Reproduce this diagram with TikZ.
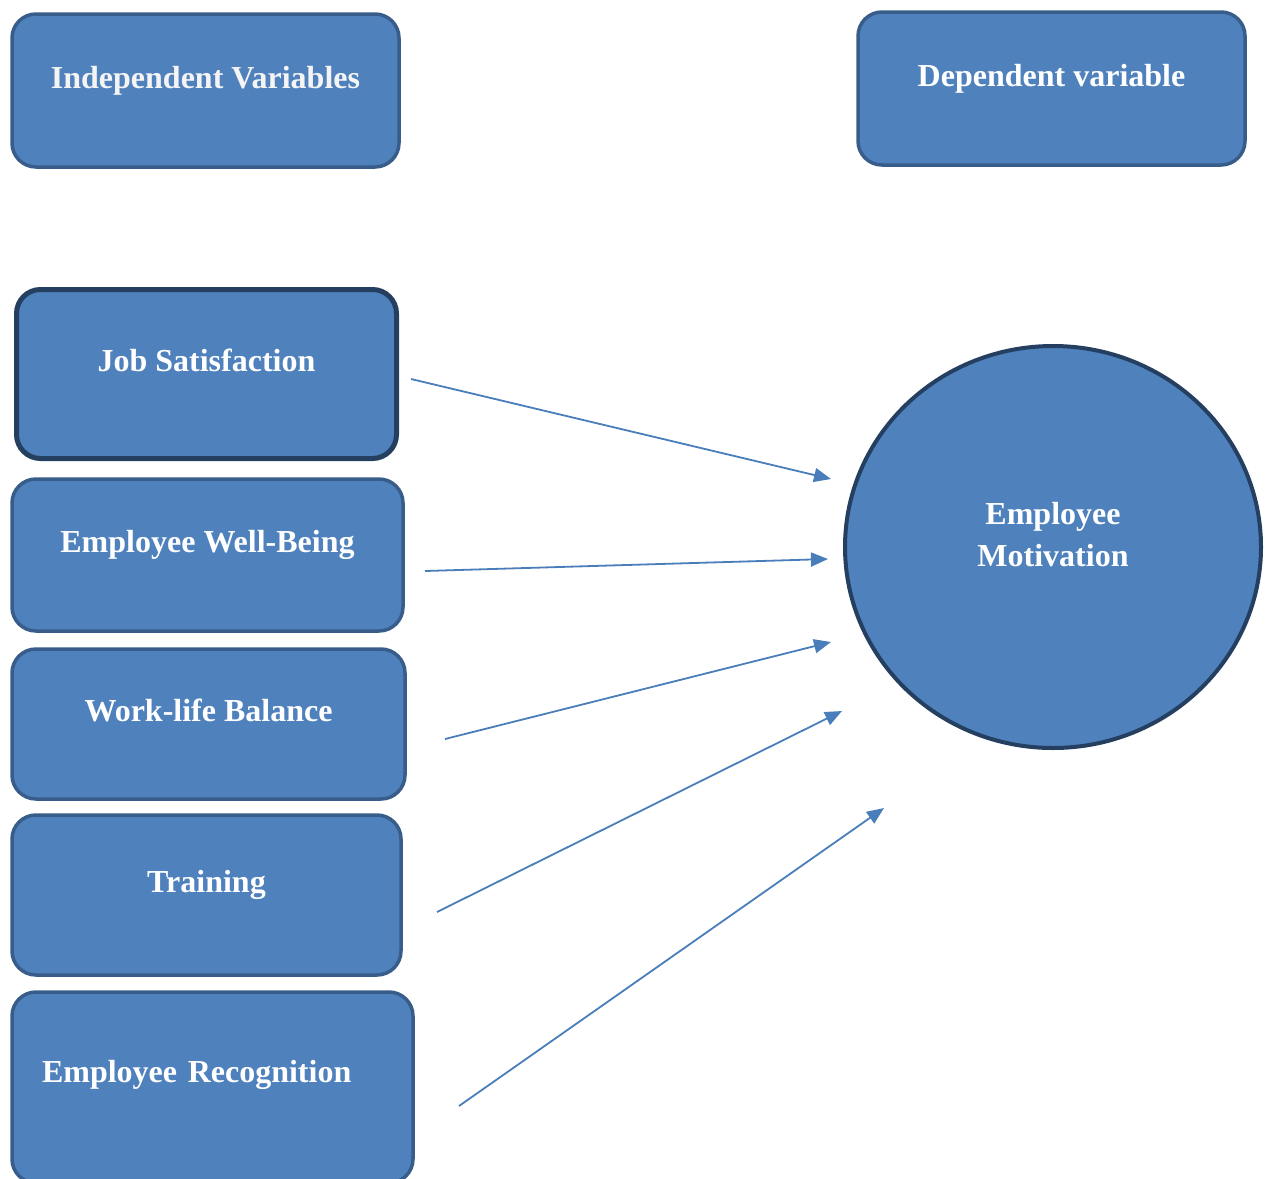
\documentclass[tikz,border=0pt]{standalone}
\usepackage{fontspec}
\setmainfont{Liberation Serif}
\usetikzlibrary{arrows.meta,shapes.geometric}
\definecolor{boxfill}{HTML}{4F81BD}
\definecolor{boxline}{HTML}{385D8A}
\definecolor{deepline}{HTML}{243F60}
\definecolor{link}{HTML}{4A7EBB}
\definecolor{paper}{HTML}{F4F4F4}

\begin{document}
\begin{tikzpicture}[x=1pt,y=-1pt,
 v/.style={draw=boxline,fill=boxfill,line width=3.5pt,rounded corners=24pt,inner sep=0pt,align=center,text=white,font=\bfseries\fontsize{32}{42}\selectfont},
 m/.style={ellipse,draw=deepline,fill=boxfill,line width=4pt,inner sep=0pt,minimum width=416pt,minimum height=402pt,align=center,text=white,font=\bfseries\fontsize{32}{42}\selectfont},
 a/.style={-{Triangle[length=17pt,width=14pt]},draw=link,line width=1.8pt}
]
\useasboundingbox (0,0) rectangle (1265,1178);
% headings
\node[v,text=paper,minimum width=387pt,text height=74pt,text depth=79pt] (iv) at (205.5,90.5) {Independent Variables};
\node[v,minimum width=387pt,text height=74pt,text depth=79pt] (dv) at (1051.5,88.5) {Dependent variable};
% the five factors
\node[v,draw=deepline,line width=5pt,minimum width=380pt,text height=81.5pt,text depth=87.5pt] (js) at (206.5,374) {Job Satisfaction};
\node[v,minimum width=391pt,text height=73pt,text depth=79pt] (wb) at (207.5,555) {Employee Well-Being};
\node[v,minimum width=393pt,text height=72pt,text depth=78pt] (wl) at (208.5,724) {Work-life Balance};
\node[v,minimum width=389pt,text height=77pt,text depth=83pt] (tr) at (206.5,895) {Training};
\node[v,align=left,text width=341pt,minimum width=401pt,text height=90pt,text depth=101pt] (er) at (212.5,1087.5) {Employee Recognition};
% outcome
\node[m,text depth=26pt] (em) at (1053,547) {Employee\\Motivation};
% arrow ends (free, short of the shapes)
\coordinate (js-t) at (411,379);  \coordinate (js-h) at (831,479);
\coordinate (wb-t) at (425,571);  \coordinate (wb-h) at (828,559);
\coordinate (wl-t) at (445,739);  \coordinate (wl-h) at (831,642);
\coordinate (tr-t) at (437,912);  \coordinate (tr-h) at (842,711);
\coordinate (er-t) at (459,1106); \coordinate (er-h) at (884,808);
\draw[a] (js-t)--(js-h); \draw[a] (wb-t)--(wb-h); \draw[a] (wl-t)--(wl-h);
\draw[a] (tr-t)--(tr-h); \draw[a] (er-t)--(er-h);
\end{tikzpicture}
\end{document}
